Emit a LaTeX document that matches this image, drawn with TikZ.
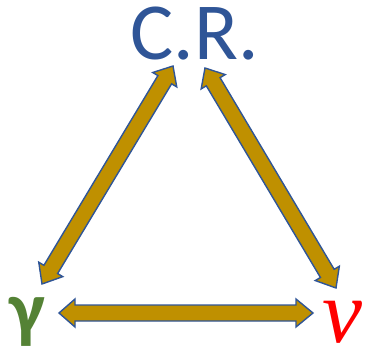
\documentclass[tikz,border=0pt]{standalone}
\usepackage{fontspec}
\setmainfont{Carlito}
\newfontfamily\serifit{Liberation Serif}
\usetikzlibrary{calc}
\definecolor{crblue}{HTML}{2F5597}
\definecolor{gold}{HTML}{BF9000}
\definecolor{ggreen}{HTML}{548235}
\definecolor{nred}{HTML}{FF0000}
\newcommand{\blockdbl}[2]{%
  \coordinate (h1) at ($(#1)!16pt!(#2)$);
  \coordinate (h2) at ($(#2)!17pt!(#1)$);
  \draw[blockarr] (#1) -- ($(h1)!14pt!90:(#2)$) -- ($(h1)!8pt!90:(#2)$)
    -- ($(h2)!8pt!-90:(#1)$) -- ($(h2)!14pt!-90:(#1)$) -- (#2)
    -- ($(h2)!14pt!90:(#1)$) -- ($(h2)!8pt!90:(#1)$)
    -- ($(h1)!8pt!-90:(#2)$) -- ($(h1)!14pt!-90:(#2)$) -- cycle;}
\begin{document}
\begin{tikzpicture}[x=1pt,y=-1pt,
  blockarr/.style={draw=crblue,fill=gold,line width=1.4pt,line join=miter},
  lbl/.style={inner sep=0pt,anchor=base}]
\useasboundingbox (0,0) rectangle (372,355);
\node[lbl,text=crblue,font=\fontsize{81}{86}\selectfont] (cr) at (195,60) {C.R.};
\node[lbl,text=ggreen,font=\bfseries\fontsize{76}{76}\selectfont] (gam) at (27,334) {γ};
\node[lbl,text=nred,font=\serifit\itshape\fontsize{90}{90}\selectfont] (nu) at (342,342) {ν};
\coordinate (crL) at (173,66);
\coordinate (crR) at (205,68);
\coordinate (gU) at (42,284);
\coordinate (nU) at (336,288);
\coordinate (gR) at (59,313);
\coordinate (nL) at (313,313);
\blockdbl{crL}{gU}
\blockdbl{crR}{nU}
\blockdbl{gR}{nL}
\end{tikzpicture}
\end{document}
